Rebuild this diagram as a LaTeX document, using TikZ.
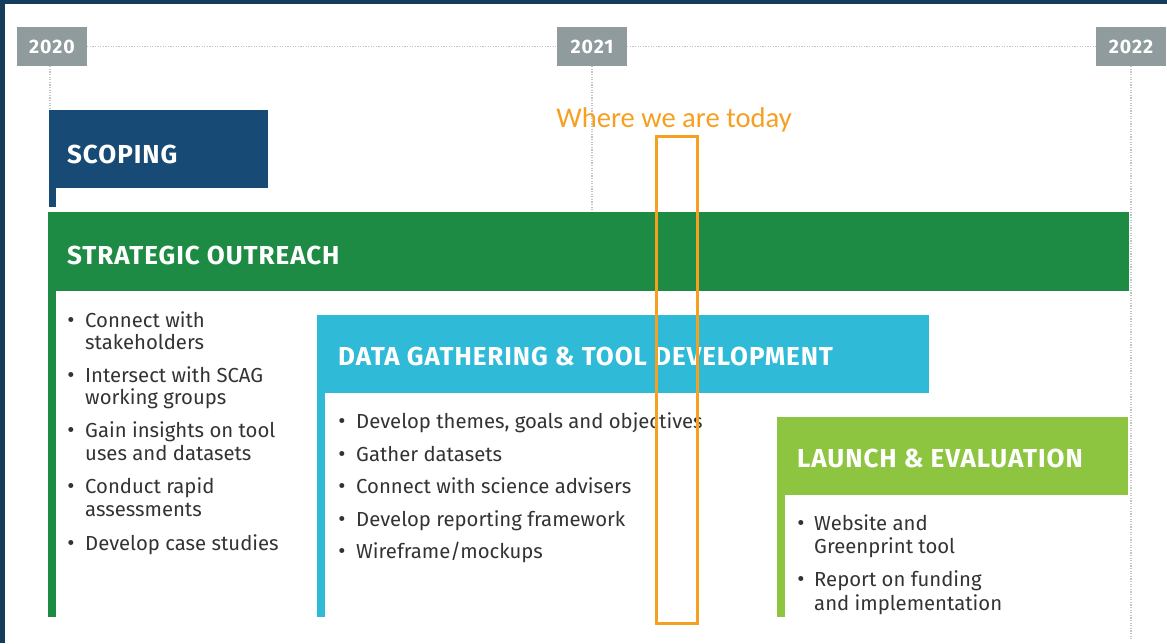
\documentclass[tikz,border=0pt]{standalone}
\usepackage{fontspec}
\setmainfont{Fira Sans}
\newfontfamily\labelfont{Carlito}
\definecolor{frame}{HTML}{163C5B}
\definecolor{yeargray}{HTML}{8F9B9D}
\definecolor{gridgray}{HTML}{BFC4C5}
\definecolor{scopeblue}{HTML}{174B75}
\definecolor{outgreen}{HTML}{1E8B45}
\definecolor{datacyan}{HTML}{2FBAD7}
\definecolor{launchgreen}{HTML}{8DC541}
\definecolor{bodytext}{HTML}{333333}
\definecolor{todayorange}{HTML}{F6A021}
\tikzset{
  yearbox/.style={fill=yeargray, text=white, minimum width=70pt, minimum height=39pt, inner sep=0pt,
    font=\fontsize{19.5}{22}\selectfont\bfseries\addfontfeature{LetterSpace=5}},
  gridline/.style={draw=gridgray, line width=1.2pt, dash pattern=on 1.2pt off 1.4pt},
  phasetitle/.style={anchor=base west, inner sep=0pt, text=white, font=\fontsize{26}{30}\selectfont\bfseries\addfontfeature{LetterSpace=3.6}},
  itemline/.style={anchor=base west, inner sep=0pt, text=bodytext, font=\fontsize{20.3}{24}\selectfont},
  itembullet/.style={anchor=base, inner sep=0pt, text=bodytext, font=\fontsize{22}{24}\selectfont},
}
\begin{document}
\begin{tikzpicture}[x=1pt,y=-1pt]
\fill[white] (0,0) rectangle (1167,643);
\useasboundingbox (0,0) rectangle (1167,643);
\fill[frame] (0,0) rectangle (5,643);
\fill[frame] (0,0) rectangle (1167,4);

% years
\node[yearbox] (y2020) at (52,46.5) {2020};
\node[yearbox] (y2021) at (592,46.5) {2021};
\node[yearbox] (y2022) at (1131,46.5) {2022};
\coordinate (v2020) at (50,110);
\coordinate (v2021) at (592,212);
\coordinate (v2022) at (1131,640);
\draw[gridline] (y2020.east) -- (y2021.west);
\draw[gridline] (y2021.east) -- (y2022.west);
\draw[gridline] (y2020.south -| v2020) -- (v2020);
\draw[gridline] (y2021.south) -- (v2021);
\draw[gridline] (y2022.south) -- (v2022);

% scoping
\fill[scopeblue] (49,110) rectangle (268,188);
\fill[scopeblue] (49,188) rectangle (56,207);
\node[phasetitle] (scoping) at (67,163) {SCOPING};

% strategic outreach
\fill[outgreen] (48,212) rectangle (1129,291);
\fill[outgreen] (48,291) rectangle (56,617);
\node[phasetitle] (outreach) at (67,264) {STRATEGIC OUTREACH};
\node[itembullet] (ob1) at (71,327) {•};
\node[itemline] (o1a) at (85,327) {Connect with};
\node[itemline] (o1b) at (85,349) {stakeholders};
\node[itembullet] (ob2) at (71,382.5) {•};
\node[itemline] (o2a) at (85,382.5) {Intersect with SCAG};
\node[itemline] (o2b) at (85,404.5) {working groups};
\node[itembullet] (ob3) at (71,437) {•};
\node[itemline] (o3a) at (85,437) {Gain insights on tool};
\node[itemline] (o3b) at (85,460) {uses and datasets};
\node[itembullet] (ob4) at (71,493) {•};
\node[itemline] (o4a) at (85,493) {Conduct rapid};
\node[itemline] (o4b) at (85,516) {assessments};
\node[itembullet] (ob5) at (71,550) {•};
\node[itemline] (o5a) at (85,550) {Develop case studies};

% data gathering
\fill[datacyan] (317,315) rectangle (929,393);
\fill[datacyan] (317,393) rectangle (325,617);
\node[phasetitle] (data) at (338,365) {DATA GATHERING \& TOOL DEVELOPMENT};
\node[itembullet] (db1) at (342,428) {•};
\node[itemline] (d1) at (356,428) {Develop themes, goals and objectives};
\node[itembullet] (db2) at (342,461) {•};
\node[itemline] (d2) at (356,461) {Gather datasets};
\node[itembullet] (db3) at (342,493) {•};
\node[itemline] (d3) at (356,493) {Connect with science advisers};
\node[itembullet] (db4) at (342,526) {•};
\node[itemline] (d4) at (356,526) {Develop reporting framework};
\node[itembullet] (db5) at (342,558) {•};
\node[itemline] (d5) at (356,558) {Wireframe/mockups};

% launch
\fill[launchgreen] (777,417) rectangle (1128,495);
\fill[launchgreen] (777,495) rectangle (785,617);
\node[phasetitle] (launch) at (797,467) {LAUNCH \& EVALUATION};
\node[itembullet] (lb1) at (801,530) {•};
\node[itemline] (l1a) at (814,530) {Website and};
\node[itemline] (l1b) at (814,553) {Greenprint tool};
\node[itembullet] (lb2) at (801,586) {•};
\node[itemline] (l2a) at (814,586) {Report on funding};
\node[itemline] (l2b) at (814,610) {and implementation};

% today marker
\node[draw=todayorange, line width=3pt, minimum width=41pt, minimum height=487pt, inner sep=0pt, anchor=north west] (today) at (655,135) {};
\node[anchor=base, inner sep=0pt, text=todayorange, font=\labelfont\fontsize{28.6}{32}\selectfont] (todaylabel) at (674,127) {Where we are today};
\end{tikzpicture}
\end{document}
